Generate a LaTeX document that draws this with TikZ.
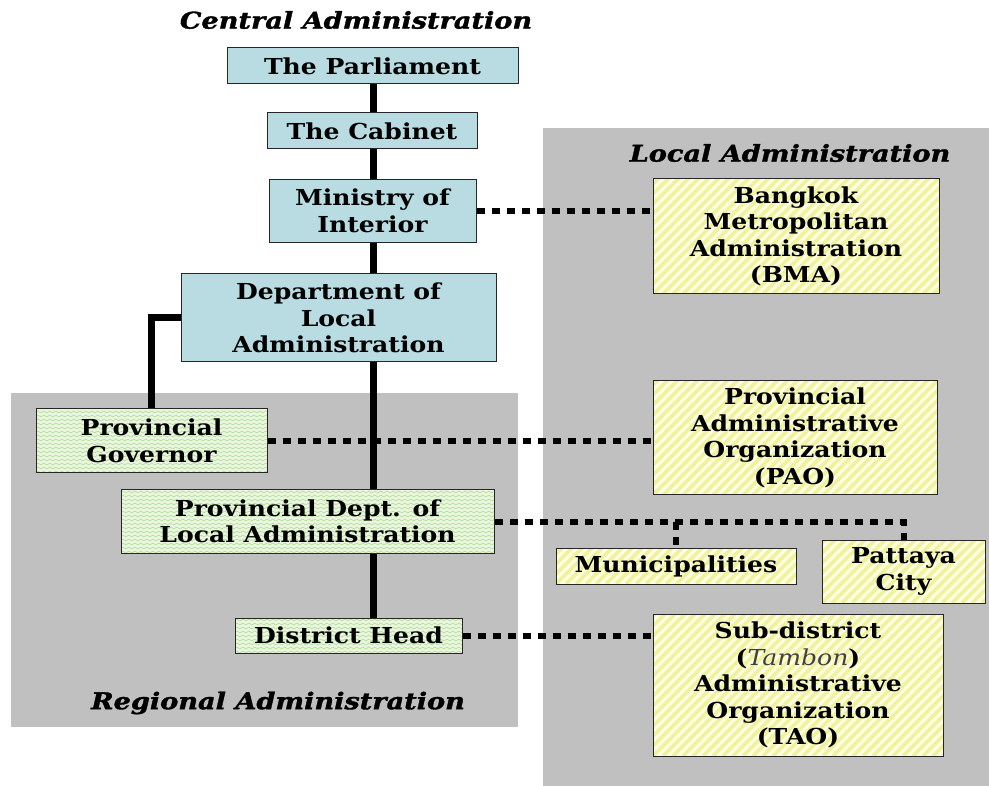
\documentclass[tikz,border=0pt]{standalone}
\usepackage{fontspec}
\setmainfont{DejaVu Serif}
\newfontfamily\boxfont[FakeStretch=1.14]{DejaVu Serif}
\newfontfamily\titlefont[FakeStretch=1.18,FakeBold=1.5]{DejaVu Serif}
\usetikzlibrary{decorations.pathmorphing}
\definecolor{grayreg}{RGB}{192,192,192}
\definecolor{bluefill}{RGB}{184,220,226}
\definecolor{greenfill}{RGB}{234,246,224}
\definecolor{greenline}{RGB}{186,224,162}
\definecolor{yellowfill}{RGB}{255,255,226}
\definecolor{yellowline}{RGB}{240,242,160}
\pgfdeclarelayer{bglayer}
\pgfdeclarelayer{linelayer}
\pgfsetlayers{bglayer,linelayer,main}
\tikzset{
  box/.style={draw=black!85, line width=1pt, align=center, inner sep=0pt,
    font=\boxfont\fontsize{22}{26.5}\selectfont\bfseries},
  bluebox/.style={box, fill=bluefill},
  greenbox/.style={box, fill=greenfill, path picture={
    \foreach \k in {0,...,18}{
      \draw[greenline, line width=0.8pt, decorate,
        decoration={snake, amplitude=0.9pt, segment length=6pt}]
        ([xshift=-6pt,yshift=\k*4pt+1pt]path picture bounding box.south west) --
        ([xshift=6pt,yshift=\k*4pt+1pt]path picture bounding box.south east);}
  }},
  yellowbox/.style={box, fill=yellowfill, path picture={
    \foreach \k in {-16,...,32}{
      \draw[yellowline, line width=3.6pt]
        ([xshift=\k*10pt]path picture bounding box.south west) -- ++(160pt,160pt);}
  }},
  solidline/.style={line width=7pt, black},
  dotline/.style={line width=6pt, black, dash pattern=on 8pt off 7pt},
  regiontitle/.style={font=\titlefont\fontsize{23}{26}\selectfont\bfseries\itshape},
}
\begin{document}
\begin{tikzpicture}[x=1pt,y=-1pt]
\useasboundingbox (0,0) rectangle (989,786);
\begin{pgfonlayer}{bglayer}
\fill[grayreg] (11,393) rectangle (518,727);
\fill[grayreg] (543,128) rectangle (989,786);
\end{pgfonlayer}
\node[regiontitle] (tcentral) at (356,20) {Central Administration};
\node[regiontitle] (tlocal) at (790,153) {Local Administration};
\node[regiontitle] (tregional) at (278,703) {Regional Administration};
\coordinate (spine) at (373,0);
\path
 node[bluebox, minimum width=291pt, minimum height=36pt] (parl) at (372.5,66) {The Parliament}
 node[bluebox, minimum width=210pt, minimum height=36pt] (cab) at (372,131) {The Cabinet}
 node[bluebox, minimum width=207pt, minimum height=63pt] (min) at (372.5,211) {Ministry of\\Interior}
 node[bluebox, minimum width=315pt, minimum height=88pt] (dept) at (338.5,318) {Department of\\Local\\Administration}
 node[greenbox, minimum width=231pt, minimum height=64pt] (gov) at (151.5,441) {Provincial\\Governor}
 node[greenbox, minimum width=373pt, minimum height=63pt] (provdept) at (307.5,521.5) {Provincial Dept. of\\Local Administration}
 node[greenbox, minimum width=227pt, minimum height=35pt] (district) at (348.5,635.5) {District Head}
 node[yellowbox, minimum width=286pt, minimum height=115pt] (bma) at (796,236.5) {Bangkok\\Metropolitan\\Administration\\(BMA)}
 node[yellowbox, minimum width=284pt, minimum height=114pt] (pao) at (795,438) {Provincial\\Administrative\\Organization\\(PAO)}
 node[yellowbox, minimum width=240pt, minimum height=36pt] (muni) at (676,566) {Municipalities}
 node[yellowbox, minimum width=163pt, minimum height=63pt] (pattaya) at (903.5,571.5) {Pattaya\\City}
 node[yellowbox, minimum width=290pt, minimum height=142pt] (tao) at (798,685) {Sub-district\\({\mdseries\itshape\color{black!75}Tambon})\\Administrative\\Organization\\(TAO)};
\begin{pgfonlayer}{linelayer}
\draw[solidline] (parl.south -| spine) -- (district.north -| spine);
\draw[solidline] (dept.west) -| (gov.north);
\draw[dotline] (min.east) -- (min.east -| bma.west);
\draw[dotline] (gov.east) -- (gov.east -| pao.west);
\draw[dotline] (provdept.east) -| (pattaya.north);
\draw[dotline] (provdept.east -| muni.north) -- (muni.north);
\draw[dotline] (district.east) -- (district.east -| tao.west);
\end{pgfonlayer}
\end{tikzpicture}
\end{document}
